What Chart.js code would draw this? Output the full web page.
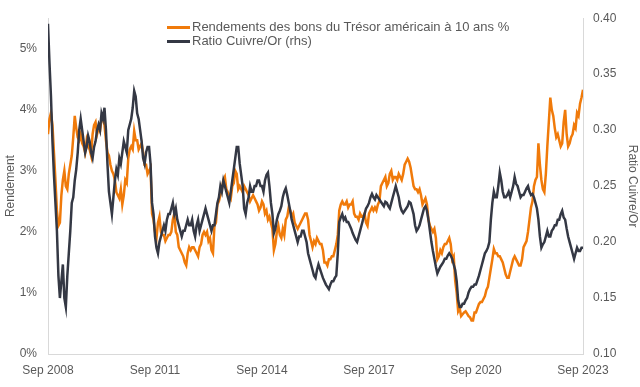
<!DOCTYPE html>
<html>
<head>
<meta charset="utf-8">
<script src="https://cdn.jsdelivr.net/npm/chart.js@4.4.1/dist/chart.umd.min.js"></script>
<style>
  html, body { margin: 0; padding: 0; background: #ffffff; }
  #wrap { position: relative; width: 640px; height: 387px; font-family: "Liberation Sans", Arial, sans-serif; }
  #legend { position: absolute; left: 167px; top: 20px; font-size: 13px; color: #595959; line-height: 14px; }
  .item { display: flex; align-items: center; height: 14px; }
  .swatch { width: 23px; height: 3px; margin-right: 2px; }
</style>
</head>
<body>
<div id="wrap">
  <canvas id="c" width="640" height="387"></canvas>
  <div id="legend"></div>
</div>
<script>
// X ticks (every 36 months from Sep 2008)
const tickLabels = ["Sep 2008", "Sep 2011", "Sep 2014", "Sep 2017", "Sep 2020", "Sep 2023"];
const seriesNames = ["Rendements des bons du Trésor américain à 10 ans %", "Ratio Cuivre/Or (rhs)"];

// US 10Y Treasury yield, %, twice a month, Sep 2008 .. Sep 2023 (one row per year from Sep)
const yieldSeries = [
  3.6,3.85, 3.95,3.75, 3.3,2.85, 2.35,2.1, 2.15,2.6, 2.85,3.0, 2.75,2.7, 2.95,3.1, 3.25,3.55, 3.9,3.7, 3.55,3.5, 3.6,3.45,
  3.4,3.3, 3.5,3.4, 3.35,3.25, 3.6,3.75, 3.8,3.6, 3.7,3.65, 3.85,3.9, 3.75,3.5, 3.3,3.25, 3.1,3.0, 2.95,2.85, 2.65,2.6,
  2.55,2.7, 2.45,2.6, 2.85,2.8, 3.2,3.35, 3.4,3.35, 3.65,3.5, 3.5,3.35, 3.4,3.45, 3.3,3.1, 3.1,2.95, 3.0,3.05, 2.3,2.2,
  2.0,1.9, 2.15,2.25, 2.0,1.95, 1.95,1.85, 1.9,1.95, 1.95,2.0, 2.2,2.3, 2.0,1.95, 1.75,1.7, 1.65,1.6, 1.5,1.45, 1.65,1.75,
  1.7,1.75, 1.75,1.7, 1.65,1.6, 1.75,1.8, 1.95,2.0, 1.95,2.0, 1.85,1.9, 1.7,1.65, 2.1,2.15, 2.45,2.5, 2.6,2.7, 2.85,2.9,
  2.7,2.65, 2.6,2.55, 2.75,2.8, 3.0,2.95, 2.7,2.75, 2.7,2.65, 2.75,2.7, 2.65,2.6, 2.5,2.55, 2.6,2.55, 2.5,2.45, 2.35,2.4,
  2.5,2.45, 2.3,2.35, 2.2,2.25, 2.15,2.05, 1.7,1.8, 2.0,2.1, 1.95,1.9, 2.05,1.95, 2.2,2.25, 2.4,2.35, 2.25,2.3, 2.15,2.1,
  2.05,2.1, 2.15,2.2, 2.25,2.3, 2.3,2.2, 1.95,1.85, 1.75,1.85, 1.8,1.9, 1.85,1.8, 1.8,1.7, 1.5,1.5, 1.45,1.55, 1.55,1.6,
  1.6,1.7, 1.8,1.95, 2.35,2.45, 2.5,2.45, 2.45,2.5, 2.4,2.45, 2.45,2.5, 2.3,2.25, 2.25,2.2, 2.3,2.25, 2.25,2.3, 2.15,2.1,
  2.3,2.35, 2.4,2.35, 2.4,2.35, 2.45,2.5, 2.75,2.8, 2.85,2.9, 2.75,2.8, 2.95,3.0, 2.85,2.9, 2.9,2.85, 2.95,2.9, 2.85,2.95,
  3.1,3.15, 3.2,3.15, 3.05,2.9, 2.75,2.7, 2.7,2.65, 2.7,2.6, 2.45,2.5, 2.55,2.45, 2.2,2.1, 2.05,2.0, 2.05,1.9, 1.55,1.6,
  1.7,1.65, 1.75,1.8, 1.8,1.85, 1.9,1.8, 1.55,1.6, 1.2,1.0, 0.7,0.75, 0.62,0.65, 0.68,0.7, 0.66,0.62, 0.6,0.55, 0.55,0.68,
  0.68,0.75, 0.82,0.85, 0.85,0.9, 0.95,1.05, 1.1,1.25, 1.4,1.55, 1.72,1.65, 1.65,1.6, 1.6,1.55, 1.5,1.4, 1.3,1.25, 1.25,1.35,
  1.45,1.55, 1.6,1.55, 1.5,1.45, 1.45,1.55, 1.75,1.8, 1.85,2.0, 2.2,2.4, 2.5,2.75, 2.85,2.9, 3.45,3.1, 2.85,2.7, 2.65,2.95,
  3.4,3.8, 4.2,4.0, 3.9,3.7, 3.55,3.6, 3.5,3.4, 3.45,3.8, 4.0,3.6, 3.4,3.45, 3.55,3.6, 3.75,3.7, 3.95,3.9, 4.1,4.2,
  4.33
];

// Copper / gold ratio, twice a month, Sep 2008 .. Sep 2023
const ratioSeries = [
  0.395,0.36, 0.33,0.29, 0.26,0.235, 0.21,0.17, 0.15,0.165, 0.18,0.15, 0.142,0.17, 0.19,0.21, 0.235,0.24, 0.255,0.265, 0.28,0.3, 0.31,0.3,
  0.29,0.28, 0.285,0.295, 0.29,0.28, 0.275,0.285, 0.29,0.3, 0.305,0.3, 0.315,0.31, 0.32,0.3, 0.27,0.245, 0.235,0.225, 0.24,0.255, 0.265,0.26,
  0.275,0.27, 0.28,0.29, 0.285,0.28, 0.3,0.305, 0.31,0.32, 0.335,0.33, 0.315,0.31, 0.3,0.29, 0.275,0.27, 0.28,0.285, 0.285,0.27, 0.235,0.225,
  0.205,0.195, 0.19,0.2, 0.205,0.21, 0.215,0.21, 0.22,0.225, 0.225,0.23, 0.235,0.225, 0.23,0.22, 0.215,0.21, 0.205,0.21, 0.21,0.215, 0.22,0.215,
  0.215,0.22, 0.21,0.205, 0.215,0.22, 0.21,0.215, 0.22,0.225, 0.23,0.225, 0.22,0.215, 0.21,0.215, 0.215,0.225, 0.235,0.24, 0.25,0.245, 0.255,0.25,
  0.245,0.24, 0.235,0.245, 0.255,0.265, 0.275,0.285, 0.285,0.27, 0.26,0.25, 0.23,0.225, 0.235,0.24, 0.25,0.245, 0.245,0.25, 0.25,0.255, 0.255,0.25,
  0.25,0.245, 0.255,0.26, 0.262,0.25, 0.235,0.225, 0.208,0.212, 0.22,0.225, 0.228,0.232, 0.24,0.245, 0.248,0.242, 0.235,0.228, 0.22,0.215, 0.21,0.205,
  0.2,0.205, 0.205,0.21, 0.21,0.205, 0.2,0.19, 0.185,0.18, 0.175,0.17, 0.168,0.175, 0.18,0.176, 0.172,0.168, 0.165,0.162, 0.16,0.158, 0.162,0.165,
  0.165,0.168, 0.17,0.19, 0.218,0.222, 0.225,0.22, 0.222,0.218, 0.218,0.215, 0.212,0.208, 0.205,0.202, 0.2,0.205, 0.21,0.215, 0.22,0.225, 0.23,0.232,
  0.235,0.24, 0.243,0.24, 0.238,0.242, 0.24,0.238, 0.236,0.234, 0.232,0.236, 0.235,0.232, 0.23,0.235, 0.24,0.245, 0.25,0.245, 0.24,0.232, 0.228,0.226,
  0.228,0.23, 0.232,0.236, 0.235,0.23, 0.225,0.215, 0.21,0.212, 0.215,0.22, 0.225,0.23, 0.232,0.228, 0.22,0.21, 0.2,0.192, 0.185,0.178, 0.172,0.175,
  0.178,0.18, 0.182,0.185, 0.185,0.188, 0.19,0.188, 0.185,0.18, 0.175,0.165, 0.148,0.142, 0.142,0.145, 0.145,0.148, 0.15,0.155, 0.158,0.16, 0.16,0.162,
  0.162,0.166, 0.17,0.175, 0.18,0.185, 0.19,0.192, 0.195,0.2, 0.22,0.235, 0.245,0.24, 0.24,0.25, 0.262,0.255, 0.245,0.24, 0.24,0.242, 0.245,0.24,
  0.245,0.25, 0.258,0.252, 0.25,0.245, 0.24,0.242, 0.242,0.245, 0.248,0.25, 0.245,0.242, 0.243,0.24, 0.235,0.23, 0.22,0.205, 0.195,0.198, 0.2,0.205,
  0.21,0.205, 0.205,0.21, 0.212,0.215, 0.215,0.22, 0.22,0.225, 0.228,0.222, 0.22,0.212, 0.205,0.2, 0.195,0.19, 0.185,0.19, 0.195,0.192, 0.192,0.195,
  0.195
];

const ORANGE = "#F07A0A";
const DARK = "#343844";
const TEXT = "#595959";
const AXIS = "#d9d9d9";

Chart.defaults.font.family = '"Liberation Sans", Arial, sans-serif';
Chart.defaults.font.size = 12;
Chart.defaults.color = TEXT;

// two samples per month -> x in months since Sep 2008
const toPts = arr => arr.map((v, i) => ({ x: i / 2, y: v }));

new Chart(document.getElementById("c"), {
  type: "line",
  data: {
    datasets: [
      { label: seriesNames[1], data: toPts(ratioSeries), yAxisID: "y1",
        borderColor: DARK, backgroundColor: DARK, borderWidth: 2.5, pointRadius: 0, tension: 0 },
      { label: seriesNames[0], data: toPts(yieldSeries), yAxisID: "y",
        borderColor: ORANGE, backgroundColor: ORANGE, borderWidth: 2.5, pointRadius: 0, tension: 0 }
    ]
  },
  options: {
    responsive: false,
    animation: false,
    devicePixelRatio: 1,
    layout: { padding: { top: 16, left: 0, right: 0, bottom: 0 } },
    plugins: { legend: { display: false }, tooltip: { enabled: false } },
    scales: {
      x: {
        type: "linear", min: 0, max: 180,
        grid: { display: false, drawTicks: false },
        border: { display: true, color: AXIS, width: 1 },
        ticks: { stepSize: 36, autoSkip: false, maxRotation: 0, padding: 9, color: TEXT,
          callback: v => (v % 36 === 0 ? tickLabels[v / 36] : null) },
        afterFit: s => { s.height = 33; }
      },
      y: {
        position: "left", min: 0, max: 5.5,
        grid: { display: false, drawTicks: false },
        border: { display: true, color: AXIS, width: 1 },
        ticks: { stepSize: 1, padding: 11, color: TEXT,
          callback: v => (Number.isInteger(v) ? v + "%" : null) },
        title: { display: true, text: "Rendement", color: TEXT, font: { size: 12 }, padding: { top: 3, bottom: 0 } },
        afterFit: s => { s.width = 48; }
      },
      y1: {
        position: "right", min: 0.1, max: 0.4,
        grid: { display: false, drawTicks: false },
        border: { display: true, color: AXIS, width: 1 },
        ticks: { stepSize: 0.05, padding: 10, color: TEXT, callback: v => Number(v).toFixed(2) },
        title: { display: true, text: "Ratio Cuivre/Or", color: TEXT, font: { size: 12 }, padding: { top: 0, bottom: 0 } },
        afterFit: s => { s.width = 57; }
      }
    }
  }
});

// HTML legend, stacked (yield first)
const legend = document.getElementById("legend");
[[seriesNames[0], ORANGE], [seriesNames[1], DARK]].forEach(([name, col]) => {
  const it = document.createElement("div");
  it.className = "item";
  const sw = document.createElement("span");
  sw.className = "swatch";
  sw.style.background = col;
  const tx = document.createElement("span");
  tx.textContent = name;
  it.appendChild(sw);
  it.appendChild(tx);
  legend.appendChild(it);
});
</script>
</body>
</html>
